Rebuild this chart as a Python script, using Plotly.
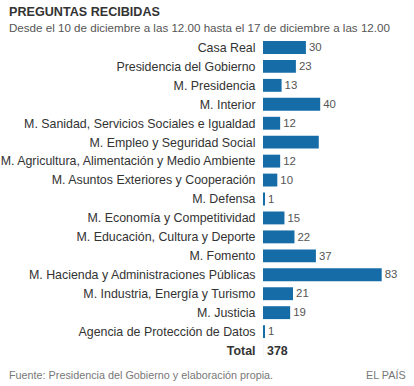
import plotly.graph_objects as go

categories = [
    "Casa Real",
    "Presidencia del Gobierno",
    "M. Presidencia",
    "M. Interior",
    "M. Sanidad, Servicios Sociales e Igualdad",
    "M. Empleo y Seguridad Social",
    "M. Agricultura, Alimentación y Medio Ambiente",
    "M. Asuntos Exteriores y Cooperación",
    "M. Defensa",
    "M. Economía y Competitividad",
    "M. Educación, Cultura y Deporte",
    "M. Fomento",
    "M. Hacienda y Administraciones Públicas",
    "M. Industria, Energía y Turismo",
    "M. Justicia",
    "Agencia de Protección de Datos",
]
values = [30, 23, 13, 40, 12, 39, 12, 10, 1, 15, 22, 37, 83, 21, 19, 1]
shown_labels = [True, True, True, True, True, False, True, True, True, True, True, True, True, True, True, True]
total_label = "Total"
total_value = 378

title = "PREGUNTAS RECIBIDAS"
subtitle = "Desde el 10 de diciembre a las 12.00 hasta el 17 de diciembre a las 12.00"
source = "Fuente: Presidencia del Gobierno y elaboración propia."
brand = "EL PAÍS"

FONT = "Liberation Sans, Arial, sans-serif"
BAR = "#166ca7"

texts = [str(v) if s else "" for v, s in zip(values, shown_labels)]

W, H = 414, 386
L, R, T, B = 263, 8, 37.5, 25.5
pw, ph = W - L - R, H - T - B

def px(x):
    return (x - L) / pw

def py(y):
    return 1 - (y - T) / ph

fig = go.Figure()
fig.add_trace(go.Bar(
    x=values, y=categories, orientation="h",
    marker=dict(color=BAR, line=dict(width=0)),
    width=0.68,
    text=texts, textposition="outside", cliponaxis=False,
    textfont=dict(family=FONT, size=12.4, color="#555555"),
    hoverinfo="skip",
))
# Total row (empty category)
fig.add_trace(go.Bar(
    x=[0], y=[total_label], orientation="h",
    marker=dict(color="rgba(0,0,0,0)"), width=0.68,
    hoverinfo="skip", showlegend=False,
))

annotations = [
    dict(x=0, y=total_label, xref="x", yref="y", text="<b>%d</b>" % total_value,
         showarrow=False, xanchor="left", xshift=2,
         font=dict(family=FONT, size=12.4, color="#333333")),
    dict(x=px(7), y=py(11), xref="paper", yref="paper", text="<b>%s</b>" % title,
         showarrow=False, xanchor="left", yanchor="middle",
         font=dict(family=FONT, size=12.6, color="#333333")),
    dict(x=px(7), y=py(27), xref="paper", yref="paper", text=subtitle,
         showarrow=False, xanchor="left", yanchor="middle",
         font=dict(family=FONT, size=11.6, color="#555555")),
    dict(x=px(7), y=py(376), xref="paper", yref="paper", text=source,
         showarrow=False, xanchor="left", yanchor="middle",
         font=dict(family=FONT, size=10.8, color="#777777")),
    dict(x=px(408), y=py(376), xref="paper", yref="paper", text=brand,
         showarrow=False, xanchor="right", yanchor="middle",
         font=dict(family=FONT, size=10.8, color="#777777")),
]

ticktext = categories + ["<b>%s</b>" % total_label]
fig.update_yaxes(
    categoryorder="array", categoryarray=categories + [total_label],
    tickmode="array", tickvals=categories + [total_label], ticktext=ticktext,
    autorange=False, range=[16.5, -0.5], automargin=False,
    showgrid=False, zeroline=False, showline=False,
    ticks="outside", ticklen=4, tickcolor="rgba(0,0,0,0)",
    tickfont=dict(family=FONT, size=12.4, color="#333333"),
)
fig.update_xaxes(range=[0, 100], autorange=False, visible=False, automargin=False)

fig.update_layout(
    width=W, height=H,
    margin=dict(l=L, r=R, t=T, b=B, pad=0, autoexpand=False),
    paper_bgcolor="white", plot_bgcolor="white",
    showlegend=False,
    font=dict(family=FONT),
    annotations=annotations,
)

fig.write_html(
    "out.html",
    config={"displayModeBar": False},
    post_script="document.body.style.margin='0';document.body.style.overflow='hidden';",
)
